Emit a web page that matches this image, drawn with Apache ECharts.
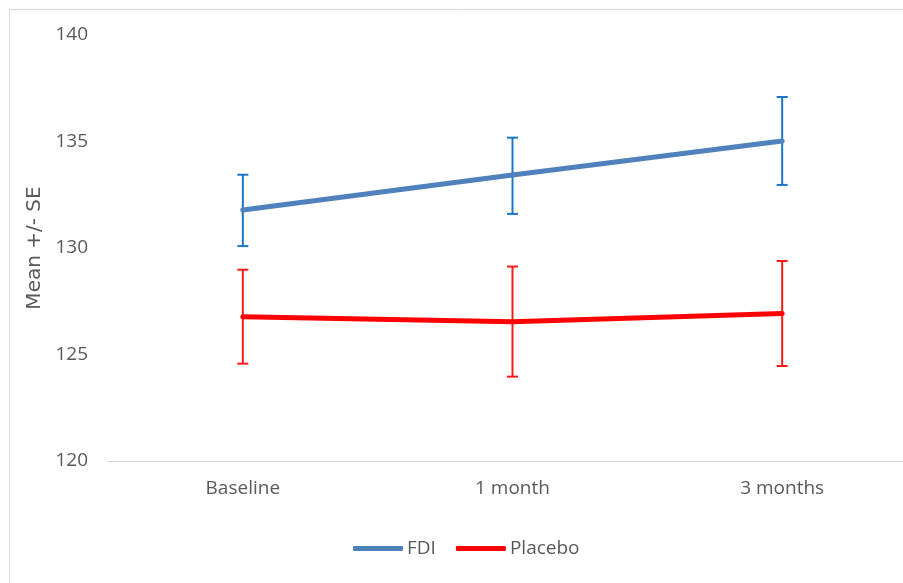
<!DOCTYPE html>
<html>
<head>
<meta charset="utf-8">
<script src="https://cdn.jsdelivr.net/npm/echarts@6/dist/echarts.min.js"></script>
<style>
html,body{margin:0;padding:0;background:#fff;overflow:hidden;width:903px;height:583px;}
#chart{width:917px;height:583px;}
</style>
</head>
<body>
<div id="chart"></div>
<script>
var categories = ['Baseline', '1 month', '3 months'];
var fdiMean = [131.78, 133.43, 135.02];
var fdiLow = [130.09, 131.6, 132.96];
var fdiHigh = [133.44, 135.18, 137.09];
var placeboMean = [126.77, 126.54, 126.93];
var placeboLow = [124.57, 123.96, 124.46];
var placeboHigh = [128.98, 129.13, 129.39];
var yMin = 120, yMax = 140, yStep = 5;

var FONT = '"Open Sans", "DejaVu Sans", sans-serif';
var chart = echarts.init(document.getElementById('chart'), null, {renderer: 'canvas'});

function errorSeries(name, low, high, color) {
  var data = categories.map(function (c, i) { return [i, low[i], high[i]]; });
  return {
    type: 'custom',
    name: name + ' SE',
    z: 1,
    silent: true,
    clip: false,
    data: data,
    encode: {x: 0, y: [1, 2]},
    renderItem: function (params, api) {
      var i = api.value(0);
      var lo = api.coord([i, api.value(1)]);
      var hi = api.coord([i, api.value(2)]);
      var half = 5.5;
      var style = {stroke: color, lineWidth: 2, fill: null};
      return {
        type: 'group',
        children: [
          {type: 'line', shape: {x1: lo[0], y1: lo[1], x2: hi[0], y2: hi[1]}, style: style},
          {type: 'line', shape: {x1: lo[0] - half, y1: lo[1], x2: lo[0] + half, y2: lo[1]}, style: style},
          {type: 'line', shape: {x1: hi[0] - half, y1: hi[1], x2: hi[0] + half, y2: hi[1]}, style: style}
        ]
      };
    }
  };
}

var option = {
  animation: false,
  backgroundColor: '#ffffff',
  graphic: [{
    type: 'rect',
    silent: true,
    shape: {x: 9.5, y: 9.5, width: 1000, height: 1000},
    style: {fill: null, stroke: '#d9d9d9', lineWidth: 1}
  }],
  grid: {left: 108, right: 0, top: 35, bottom: 122, containLabel: false},
  legend: {
    bottom: 20,
    left: 348,
    itemWidth: 50,
    itemHeight: 5,
    itemGap: 20,
    icon: 'roundRect',
    data: ['FDI', 'Placebo'],
    textStyle: {fontFamily: FONT, fontSize: 19, color: '#595959', padding: [0, 0, 0, -1]}
  },
  xAxis: {
    type: 'category',
    data: categories,
    boundaryGap: true,
    axisLine: {show: true, lineStyle: {color: '#d9d9d9', width: 1}},
    axisTick: {show: false},
    axisLabel: {fontFamily: FONT, fontSize: 19, color: '#595959', margin: 18}
  },
  yAxis: {
    type: 'value',
    min: yMin,
    max: yMax,
    interval: yStep,
    name: 'Mean +/- SE',
    nameLocation: 'middle',
    nameGap: 61,
    nameRotate: 90,
    nameTextStyle: {fontFamily: '"DejaVu Sans", sans-serif', fontSize: 20, color: '#595959'},
    axisLine: {show: false},
    axisTick: {show: false},
    splitLine: {show: false},
    axisLabel: {fontFamily: FONT, fontSize: 19, color: '#595959', margin: 20}
  },
  series: [
    errorSeries('FDI', fdiLow, fdiHigh, '#1a76c6'),
    errorSeries('Placebo', placeboLow, placeboHigh, '#ff1a1a'),
    {
      name: 'FDI',
      type: 'line',
      z: 3,
      data: fdiMean,
      symbol: 'none',
      lineStyle: {color: '#4f81bd', width: 5, cap: 'round'},
      itemStyle: {color: '#4f81bd'}
    },
    {
      name: 'Placebo',
      type: 'line',
      z: 3,
      data: placeboMean,
      symbol: 'none',
      lineStyle: {color: '#ff0000', width: 5, cap: 'round'},
      itemStyle: {color: '#ff0000'}
    }
  ]
};
chart.setOption(option);
</script>
</body>
</html>
